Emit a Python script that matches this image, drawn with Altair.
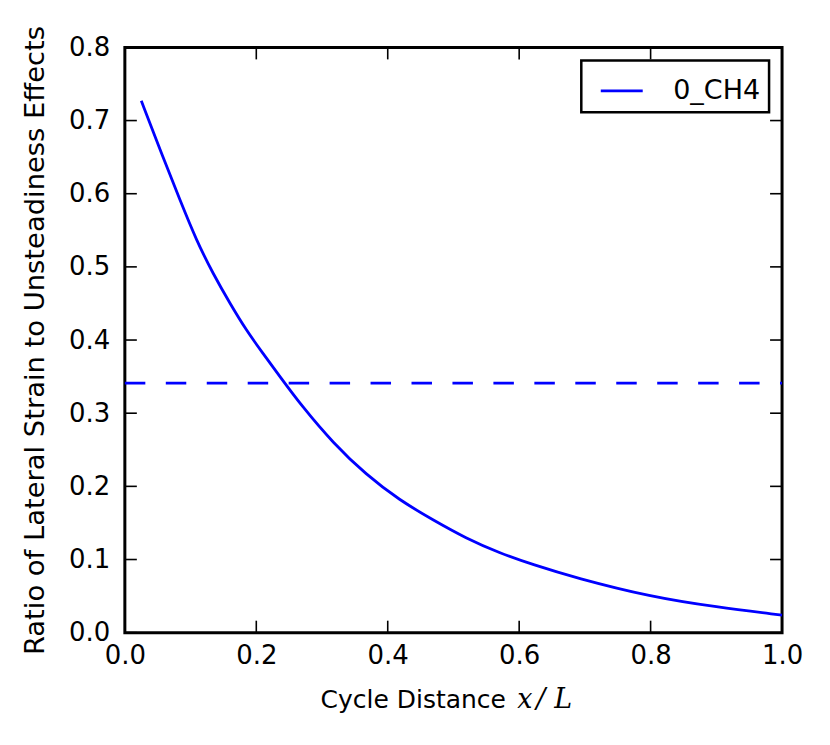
import altair as alt
import pandas as pd

# ---- data ----
x_vals = [0.025, 0.058, 0.084, 0.109, 0.134, 0.160, 0.185, 0.210, 0.236, 0.269,
          0.317, 0.367, 0.418, 0.469, 0.519, 0.570, 0.621, 0.686, 0.800, 0.900, 1.0]
ratio_vals = [0.727, 0.650, 0.591, 0.536, 0.491, 0.450, 0.413, 0.382, 0.350, 0.310,
              0.259, 0.216, 0.181, 0.154, 0.129, 0.109, 0.093, 0.075, 0.049, 0.035, 0.024]
series_name = "0_CH4"
threshold_x = [0.0, 1.0]
threshold_y = [0.341, 0.341]
x_ticks = [0.0, 0.2, 0.4, 0.6, 0.8, 1.0]
y_ticks = [0.0, 0.1, 0.2, 0.3, 0.4, 0.5, 0.6, 0.7, 0.8]
x_title_text = "Cycle Distance"
x_title_math = ["x", "/", "L"]
y_title = "Ratio of Lateral Strain to Unsteadiness Effects"

W, H = 658, 586
BLUE = "#0000ff"
FONT = "DejaVu Sans"

curve_df = pd.DataFrame({"x": x_vals, "y": ratio_vals, "series": [series_name] * len(x_vals)})
thr_df = pd.DataFrame({"x": threshold_x, "y": threshold_y})
xt_df = pd.DataFrame({"x": x_ticks})
yt_df = pd.DataFrame({"y": y_ticks})
one_df = pd.DataFrame({"a": [0]})

xscale = alt.Scale(domain=[0, 1], nice=False, zero=False)
yscale = alt.Scale(domain=[0, 0.8], nice=False, zero=False)
xaxis = alt.Axis(values=x_ticks, format=".1f", title=None, domain=False, ticks=False, tickSize=0,
                 grid=False, labelFontSize=26, labelFont=FONT, labelColor="black", labelPadding=10,
                 labelFlush=False)
yaxis = alt.Axis(values=y_ticks, format=".1f", title=y_title, domain=False, ticks=False, tickSize=0,
                 grid=False, labelFontSize=26, labelFont=FONT, labelColor="black", labelPadding=15,
                 titleFontSize=27.4, titleFont=FONT, titleFontWeight="normal", titleColor="black",
                 titlePadding=19, labelFlush=False)

X = lambda f: alt.X(f"{f}:Q", scale=xscale, axis=xaxis)
Y = lambda f: alt.Y(f"{f}:Q", scale=yscale, axis=yaxis)

curve = alt.Chart(curve_df).mark_line(strokeWidth=2.8, interpolate="basis").encode(
    x=X("x"), y=Y("y"),
    color=alt.Color("series:N", scale=alt.Scale(domain=[series_name], range=[BLUE]),
                    legend=alt.Legend(title=None, orient="none", legendX=457, legendY=13,
                                      symbolType="stroke", symbolSize=1764, symbolStrokeWidth=2.8,
                                      symbolOffset=10,
                                      labelFontSize=27, labelFont=FONT, labelColor="black",
                                      labelOffset=29, padding=8, strokeColor="black"))
)

thr = alt.Chart(thr_df).mark_line(strokeWidth=2.8, color=BLUE, strokeDash=[20.5, 20.5]).encode(
    x=X("x"), y=Y("y"))

TL = 12
tick_style = dict(color="black", strokeWidth=1.6)
bt = alt.Chart(xt_df).mark_rule(**tick_style).encode(x=X("x"), y=alt.value(H), y2=alt.value(H - TL))
tt = alt.Chart(xt_df).mark_rule(**tick_style).encode(x=X("x"), y=alt.value(0), y2=alt.value(TL))
lt = alt.Chart(yt_df).mark_rule(**tick_style).encode(y=Y("y"), x=alt.value(0), x2=alt.value(TL))
rt = alt.Chart(yt_df).mark_rule(**tick_style).encode(y=Y("y"), x=alt.value(W), x2=alt.value(W - TL))

t1 = alt.Chart(one_df).mark_text(text=x_title_text, font=FONT, fontSize=25, align="left",
                                 baseline="alphabetic", color="black").encode(
    x=alt.value(196), y=alt.value(661))
math_style = dict(font="DejaVu Serif", fontSize=27, fontStyle="italic", align="left",
                  baseline="alphabetic", color="black")
tx = alt.Chart(one_df).mark_text(text=x_title_math[0], **math_style).encode(x=alt.value(393), y=alt.value(661))
ts = alt.Chart(one_df).mark_text(text=x_title_math[1], **math_style).encode(x=alt.value(412), y=alt.value(661))
tl = alt.Chart(one_df).mark_text(text=x_title_math[2], **math_style).encode(x=alt.value(430), y=alt.value(661))

chart = alt.layer(curve, thr, bt, tt, lt, rt, t1, tx, ts, tl).properties(
    width=W, height=H,
    padding={"left": 117, "top": 39, "right": 40, "bottom": 100},
    autosize=alt.AutoSizeParams(type="none"),
).configure_view(stroke="black", strokeWidth=3).configure_legend(strokeWidth=2.5)

chart.save("out.html", embed_options={"renderer": "svg", "actions": False})
